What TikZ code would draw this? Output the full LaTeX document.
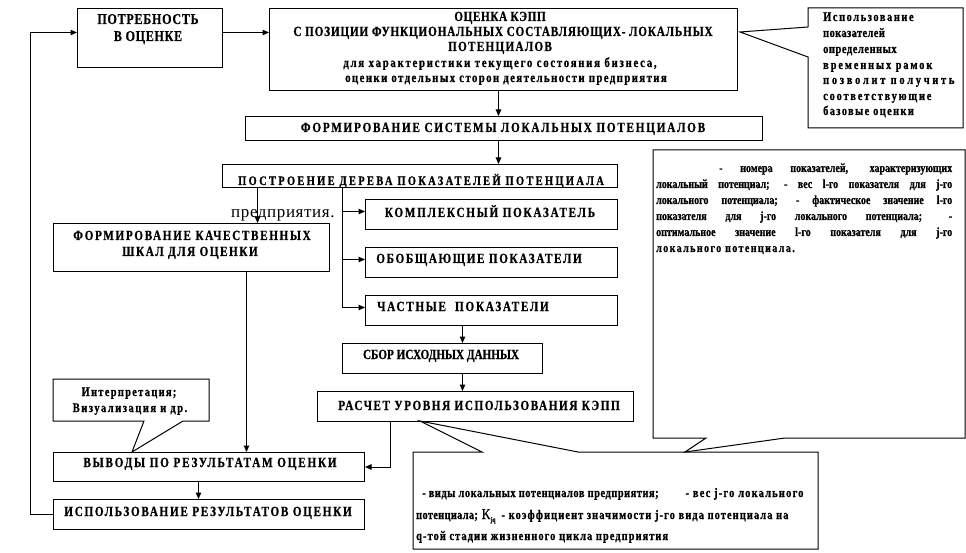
\documentclass[tikz,border=0pt]{standalone}
\usepackage{fontspec}
\setmainfont{Liberation Serif}
\newfontfamily\cf{Liberation Serif}[FakeStretch=0.8,FakeBold=0.8]
\usetikzlibrary{arrows.meta}
\ExplSyntaxOn
\box_new:N \l_fit_box
\fp_new:N \l_fit_fp
\cs_new_protected:Npn \fitto #1 #2
  {
    \hbox_set:Nn \l_fit_box {#2}
    \fp_set:Nn \l_fit_fp
      { 100 * ( #1 - \dim_to_fp:n { \box_wd:N \l_fit_box } )
        / ( \tl_count:n {#2} * \dim_to_fp:n { \fontdimen6\font } ) }
    \group_begin:
      \use:x { \exp_not:N \addfontfeature { LetterSpace = \fp_eval:n { round(\l_fit_fp, 3) } } }
      #2
    \group_end:
  }
\ExplSyntaxOff
\newcommand\fsz[2]{\fontsize{#1}{#2}\selectfont}
\begin{document}
\begin{tikzpicture}[x=1pt,y=-1pt,
  box/.style={draw, line width=1pt, fill=white, inner sep=0pt, anchor=north west},
  arr/.style={-{Triangle[length=6.5pt,width=5.5pt]}, line width=1pt},
  ln/.style={line width=1pt},
  callout/.style={draw, line width=1pt, fill=white, line join=miter},
  ttl/.style={inner sep=0pt, anchor=base, font=\cf\bfseries\fsz{14}{15}},
  ttlw/.style={inner sep=0pt, anchor=base west, font=\cf\bfseries\fsz{13}{14}},
  ptx/.style={inner sep=0pt, anchor=base west, font=\cf\bfseries\fsz{12.5}{13}},
]
\fill[white] (0,0) rectangle (966,553);
\useasboundingbox (0,0) rectangle (966,553);

% boxes
\node[box, minimum width=145pt, minimum height=59pt] (A) at (77,8) {};
\node[box, minimum width=468pt, minimum height=82pt] (B) at (269,8) {};
\node[box, minimum width=517pt, minimum height=24pt] (D) at (245,116) {};
\node[box, minimum width=395pt, minimum height=23pt] (E) at (222,164) {};
\node[box, minimum width=276pt, minimum height=48pt] (G) at (53,223) {};
\node[box, minimum width=252pt, minimum height=30pt] (H) at (365,199) {};
\node[box, minimum width=252pt, minimum height=30pt] (I) at (365,247) {};
\node[box, minimum width=252pt, minimum height=30pt] (J) at (365,295) {};
\node[box, minimum width=200pt, minimum height=30pt] (K) at (342,343) {};
\node[box, minimum width=316pt, minimum height=30pt] (L) at (317,391) {};
\node[box, minimum width=311pt, minimum height=29pt] (N) at (53,452) {};
\node[box, minimum width=311pt, minimum height=30pt] (O) at (53,499) {};

% callouts
\draw[callout] (413,452) -- (482,452) -- (420,421) -- (578,452) -- (818,452) -- (818,549) -- (413,549) -- cycle;
\draw[callout] (653,150) -- (965,150) -- (965,438) -- (785,438) -- (685,452) -- (706,438) -- (653,438) -- cycle;
\draw[callout] (808,8) -- (963,8) -- (963,128) -- (808,128) -- (808,57) -- (740,32) -- (808,27) -- cycle;
\draw[callout] (53,379) -- (209,379) -- (209,421) -- (183,421) -- (132,452) -- (144,421) -- (53,421) -- cycle;

% connectors
\coordinate (a1) at ([yshift=5.5pt]A.west);
\coordinate (a2) at ([yshift=5.5pt]A.east);
\draw[arr] (O.west) -- ++(-23,0) |- (a1);
\draw[arr] (a2) -- (a2 -| B.west);
\coordinate (b1) at ([xshift=-5pt]B.south);
\draw[arr] (b1) -- (b1 |- D.north);
\coordinate (d1) at ([xshift=-5.5pt]D.south);
\draw[arr] (d1) -- (d1 |- E.north);
\coordinate (e1) at ([xshift=-162.5pt]E.south);
\draw[arr] (e1) -- (e1 |- G.north);
\coordinate (e2) at ([xshift=-77.5pt]E.south);
\coordinate (h1) at ([yshift=3pt]H.west);
\coordinate (i1) at ([yshift=3pt]I.west);
\coordinate (j2) at ([yshift=3pt]J.west);
\draw[arr] (e2) |- (j2);
\draw[arr] (e2 |- h1) -- (h1);
\draw[arr] (e2 |- i1) -- (i1);
\coordinate (j1) at ([xshift=-29pt]J.south);
\draw[arr] (j1) -- (j1 |- K.north);
\coordinate (k1) at ([xshift=20pt]K.south);
\draw[arr] (k1) -- (k1 |- L.north);
\coordinate (l1) at ([xshift=-85pt]L.south);
\draw[arr] (l1) |- (N.east);
\coordinate (g1) at ([xshift=55pt]G.south);
\draw[arr] (g1) -- (g1 |- N.north);
\coordinate (n1) at ([xshift=-10.5pt]N.south);
\draw[arr] (n1) -- (n1 |- O.north);

% texts
\node[ttl, font=\cf\bfseries\fsz{15}{15}] (A1) at (148,24) {\fitto{102}{ПОТРЕБНОСТЬ}};
\node[ttl, font=\cf\bfseries\fsz{15}{15}] (A2) at (148,41) {\fitto{69}{В ОЦЕНКЕ}};
\node[ttl] (B1) at (500,21) {\fitto{92}{ОЦЕНКА КЭПП}};
\node[ttl] (B2) at (503,36) {\fitto{420}{С ПОЗИЦИИ ФУНКЦИОНАЛЬНЫХ СОСТАВЛЯЮЩИХ- ЛОКАЛЬНЫХ}};
\node[ttl] (B3) at (500,51) {\fitto{105}{ПОТЕНЦИАЛОВ}};
\node[ttl, font=\cf\bfseries\fsz{13.5}{14}] (B4) at (500,67) {\fitto{315}{для  характеристики текущего состояния бизнеса,}};
\node[ttl, font=\cf\bfseries\fsz{13.5}{14}] (B5) at (506,82) {\fitto{323}{оценки отдельных сторон деятельности предприятия}};
\node[ttl] (Dt) at (503,132) {\fitto{406}{ФОРМИРОВАНИЕ СИСТЕМЫ ЛОКАЛЬНЫХ ПОТЕНЦИАЛОВ}};
\node[ttl, font=\cf\bfseries\fsz{13}{13}] (Et) at (421,185) {\fitto{368}{ПОСТРОЕНИЕ ДЕРЕВА ПОКАЗАТЕЛЕЙ ПОТЕНЦИАЛА}};
\node[inner sep=0pt, anchor=base west, font=\fsz{17}{17}] (Ft) at (231,218) {\fitto{104}{предприятия.}};
\node[ttl] (G1) at (192,240) {\fitto{239}{ФОРМИРОВАНИЕ КАЧЕСТВЕННЫХ}};
\node[ttl] (G2) at (190,256) {\fitto{137}{ШКАЛ ДЛЯ ОЦЕНКИ}};
\node[ttl] (Ht) at (490,217) {\fitto{212}{КОМПЛЕКСНЫЙ ПОКАЗАТЕЛЬ}};
\node[ttl] (It) at (479,263) {\fitto{207}{ОБОБЩАЮЩИЕ ПОКАЗАТЕЛИ}};
\node[ttl] (Jt) at (463,311) {\fitto{175}{ЧАСТНЫЕ\ \ ПОКАЗАТЕЛИ}};
\node[ttl] (Kt) at (441,359) {\fitto{156}{СБОР ИСХОДНЫХ ДАННЫХ}};
\node[ttl] (Lt) at (479,410) {\fitto{283}{РАСЧЕТ УРОВНЯ ИСПОЛЬЗОВАНИЯ КЭПП}};
\node[ttl] (Nt) at (210,467) {\fitto{255}{ВЫВОДЫ ПО РЕЗУЛЬТАТАМ ОЦЕНКИ}};
\node[ttl] (Ot) at (208,516) {\fitto{289}{ИСПОЛЬЗОВАНИЕ РЕЗУЛЬТАТОВ ОЦЕНКИ}};
\node[ttl, font=\cf\bfseries\fsz{13}{14}] (M1) at (129,396) {\fitto{96}{Интерпретация;}};
\node[ttl, font=\cf\bfseries\fsz{13}{14}] (M2) at (130,412) {\fitto{116}{Визуализация и др.}};

% callout C text
\node[ttlw] (C1) at (823,21) {\fitto{92}{Использование}};
\node[ttlw] (C2) at (823,37) {\fitto{62}{показателей}};
\node[ttlw] (C3) at (823,53) {\fitto{74}{определенных}};
\node[ttlw] (C4) at (823,69) {\fitto{111}{временных рамок}};
\node[ttlw] (C5) at (823,84) {\fitto{134}{позволит получить}};
\node[ttlw] (C6) at (823,100) {\fitto{110}{соответствующие}};
\node[ttlw] (C7) at (823,115) {\fitto{92}{базовые оценки}};

% callout P text
\node[ptx] (P1) at (656,172) {\makebox[296pt][s]{\hspace*{63pt}- номера показателей, характеризующих}};
\node[ptx] (P2) at (656,188) {\makebox[296pt][s]{локальный потенциал; - вес l-го показателя для j-го}};
\node[ptx] (P3) at (656,204) {\makebox[296pt][s]{локального потенциала; - фактическое значение l-го}};
\node[ptx] (P4) at (656,220) {\makebox[296pt][s]{показателя для j-го локального потенциала; -}};
\node[ptx] (P5) at (656,236) {\makebox[296pt][s]{оптимальное значение l-го показателя для j-го}};
\node[ptx] (P6) at (656,252) {\fitto{140}{локального потенциала.}};

% callout Q text
\node[ttlw] (Q1) at (422,497) {\fitto{237}{- виды локальных потенциалов предприятия;}\hspace{27pt}\fitto{119}{- вес j-го локального}};
\node[ttlw] (Q2) at (416,519) {\fitto{62}{потенциала;}\hspace{4pt}{\mdseries\fsz{15}{15}K}\raisebox{-3pt}{\fsz{7}{7}jq}\hspace{6pt}\fitto{288}{- коэффициент значимости j-го вида потенциала на}};
\node[ttlw] (Q3) at (416,540) {\fitto{253}{q-той стадии жизненного цикла  предприятия}};
\end{tikzpicture}
\end{document}
